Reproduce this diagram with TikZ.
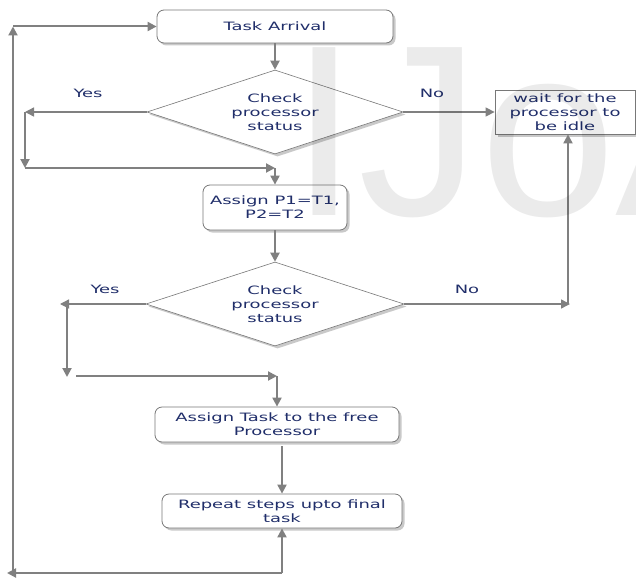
\documentclass[tikz,border=0pt]{standalone}
\usepackage{fontspec}
\newfontfamily\diagfont{DejaVu Sans}[FakeStretch=1.56]
\newfontfamily\wmfont{Liberation Sans}
\usetikzlibrary{arrows.meta,shapes.geometric,shadows}
\definecolor{linegray}{RGB}{128,128,128}
\definecolor{txtblue}{RGB}{32,46,106}
\definecolor{bordergray}{RGB}{120,120,120}
\begin{document}
\begin{tikzpicture}[x=1pt,y=-1pt,
  every node/.style={font=\diagfont\fontsize{11.5}{14}\selectfont, text=txtblue},
  boxshadow/.style={drop shadow={shadow xshift=2.5pt,shadow yshift=-2.5pt,opacity=0.35,fill=black!60}},
  rbox/.style={draw=bordergray, line width=0.8pt, fill=white, rounded corners=7pt, boxshadow, align=center, inner sep=0pt},
  sbox/.style={draw=bordergray, line width=0.8pt, fill=white, boxshadow, align=center, inner sep=0pt},
  decision/.style={diamond, aspect=3, draw=bordergray, line width=0.6pt, fill=white, boxshadow, align=center, inner sep=0pt},
  flow/.style={draw=linegray, line width=2pt, -{Triangle[length=9pt,width=9pt]}},
  thinflow/.style={flow, line width=1.4pt},
  lbl/.style={inner sep=0pt}
]
\fill[white] (0,0) rectangle (636,578);
\useasboundingbox (0,0) rectangle (636,578);

% nodes
\node[rbox, minimum width=236pt, minimum height=33pt] (arrive) at (275,26.5) {Task Arrival};
\node[decision, minimum width=256pt, minimum height=84pt] (dec1) at (275,112) {Check\\processor\\status};
\node[sbox, minimum width=140pt, minimum height=44pt] (wait) at (565,112) {wait for the\\processor to\\be idle};
\node[rbox, minimum width=144pt, minimum height=45pt] (assign) at (275,207.5) {Assign P1=T1,\\P2=T2};
\node[decision, minimum width=258pt, minimum height=84pt] (dec2) at (275,304) {Check\\processor\\status};
\node[rbox, minimum width=244pt, minimum height=35pt] (free) at (277,424.5) {Assign Task to the free\\Processor};
\node[rbox, minimum width=240pt, minimum height=34pt] (repeat) at (282,511) {Repeat steps upto final\\task};

\node[lbl] (yes1) at (88,93) {Yes};
\node[lbl] (no1) at (432,93) {No};
\node[lbl] (yes2) at (105,289) {Yes};
\node[lbl] (no2) at (467,289) {No};

% coordinates
\coordinate (y1a) at (25,112);
\coordinate (y1b) at (25,168);
\coordinate (m1) at (275,168);
\coordinate (y2a) at (60,304);
\coordinate (y2v) at (67,304);
\coordinate (y2b) at (67,377);
\coordinate (y2c) at (76,376);
\coordinate (m2) at (277,376);
\coordinate (n2a) at (570,304);
\coordinate (n2v) at (568,304);
\coordinate (r1) at (282,573);
\coordinate (r2) at (7,573);
\coordinate (r3) at (13,573);
\coordinate (r4) at (13,26.5);

% connectors
\draw[flow] (arrive) -- (dec1);
\draw[thinflow] (dec1.west) -- (y1a);
\draw[flow] (y1a) -- (y1b);
\draw[flow] (y1b) -- (m1);
\draw[flow] (m1) -- (assign.north);
\draw[thinflow] (dec1.east) -- (wait.west);
\draw[flow] (assign) -- (dec2);
\draw[thinflow] (dec2.west) -- (y2a);
\draw[flow] (y2v) -- (y2b);
\draw[flow] (y2c) -- (m2);
\draw[flow] (m2) -- (free.north);
\draw[thinflow] (dec2.east) -- (n2a);
\draw[flow] (n2v) -- (wait.south -| n2v);
\draw[flow, shorten <=4pt] (free.south -| repeat.north) -- (repeat.north);
\draw[flow] (r1) -- (repeat.south);
\draw[flow] (r1) -- (r2);
\draw[flow] (r3) -- (r4);
\draw[flow] (r4) -- (arrive.west);

% watermark
\node[font=\wmfont\fontsize{244}{244}\selectfont, text=black, text opacity=0.08, anchor=base west, inner sep=0pt] (wm) at (290,215) {IJoA};
\end{tikzpicture}
\end{document}
